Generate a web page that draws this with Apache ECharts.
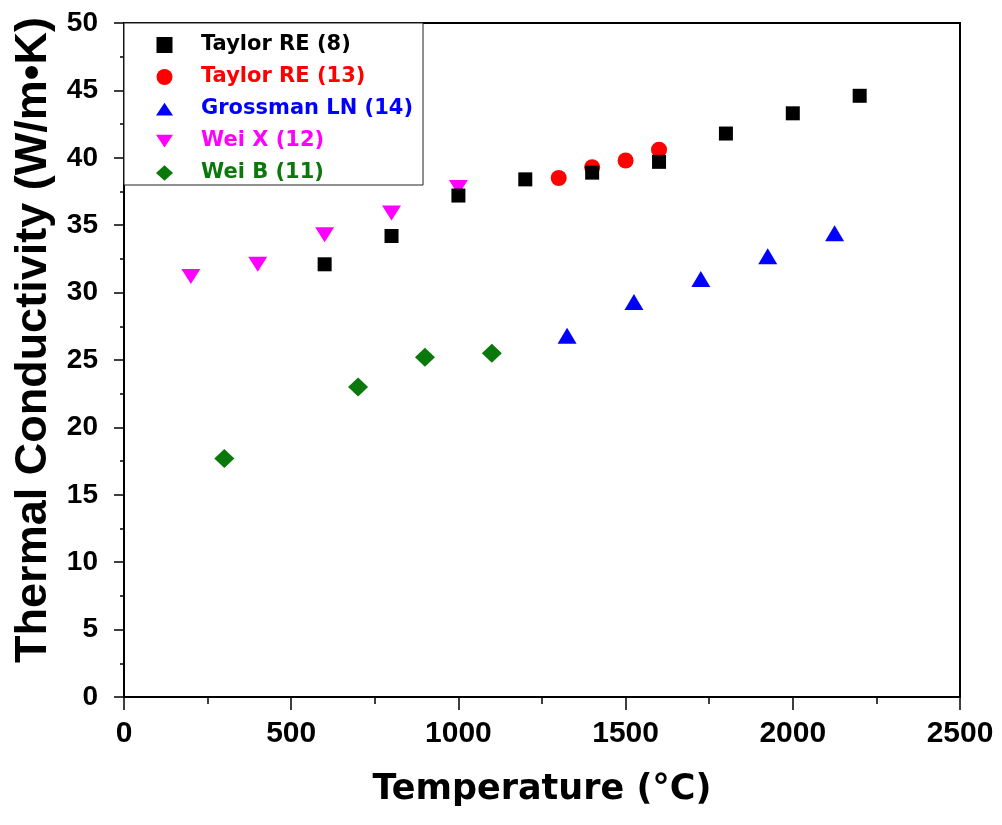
<!DOCTYPE html>
<html>
<head>
<meta charset="utf-8">
<script src="https://cdn.jsdelivr.net/npm/echarts@6/dist/echarts.min.js"></script>
<style>
html,body{margin:0;padding:0;background:#fff;}
#chart{width:1002px;height:825px;}
</style>
</head>
<body>
<div id="chart"></div>
<script>
// ---- data ----
var taylor8X = [600, 800, 1000, 1200, 1400, 1600, 1800, 2000, 2200];
var taylor8Y = [32.1, 34.2, 37.2, 38.4, 38.9, 39.7, 41.8, 43.3, 44.6];
var taylor13X = [1300, 1400, 1500, 1600];
var taylor13Y = [38.5, 39.3, 39.8, 40.6];
var grossmanX = [1325, 1525, 1725, 1925, 2125];
var grossmanY = [26.8, 29.3, 31.0, 32.7, 34.4];
var weiXX = [200, 400, 600, 800, 1000];
var weiXY = [31.2, 32.1, 34.3, 35.9, 37.8];
var weiBX = [300, 700, 900, 1100];
var weiBY = [17.7, 23.0, 25.2, 25.5];
var seriesNames = ['Taylor RE (8)', 'Taylor RE (13)', 'Grossman LN (14)', 'Wei X (12)', 'Wei B (11)'];
var xTitle = 'Temperature (°C)';
var yTitle = 'Thermal Conductivity (W/m•K)';

function pairs(xs, ys) { return xs.map(function (x, i) { return [x, ys[i]]; }); }

var colors = ['#000000', '#ff0000', '#0000ff', '#ff00ff', '#0a780a'];
var downTri = 'path://M0,0 L20,0 L10,15 Z';
var upTri = 'path://M10,0 L20,15 L0,15 Z';
var diamondIcon = 'path://M10,0 L20,9 L10,18 L0,9 Z';

var chart = echarts.init(document.getElementById('chart'), null, {renderer: 'canvas'});
var option = {
  backgroundColor: '#ffffff',
  animation: false,
  grid: {left: 124, right: 42, top: 23, bottom: 128, show: true, borderColor: '#000', borderWidth: 2, backgroundColor: 'transparent'},
  legend: {
    orient: 'vertical', left: 124, top: 23,
    padding: [11, 10, 1, 32],
    itemWidth: 17, itemHeight: 16, itemGap: 10,
    borderColor: '#222', borderWidth: 1, backgroundColor: '#fff',
    textStyle: {fontFamily: 'DejaVu Sans', fontWeight: 'bold', fontSize: 21, lineHeight: 22, padding: [0, 0, 0, 23]},
    data: [
      {name: seriesNames[0], icon: 'path://M0,0 L14,0 L14,14 L0,14 Z', textStyle: {color: colors[0]}},
      {name: seriesNames[1], icon: 'circle', textStyle: {color: colors[1]}},
      {name: seriesNames[2], icon: upTri, textStyle: {color: colors[2]}},
      {name: seriesNames[3], icon: downTri, textStyle: {color: colors[3]}},
      {name: seriesNames[4], icon: diamondIcon, textStyle: {color: colors[4]}}
    ]
  },
  xAxis: {
    type: 'value', min: 0, max: 2500, interval: 500,
    name: xTitle, nameLocation: 'middle', nameGap: 75,
    nameTextStyle: {fontFamily: 'DejaVu Sans', fontWeight: 'bold', fontSize: 35, color: '#000'},
    axisLine: {show: true, onZero: false, lineStyle: {color: '#000', width: 2}},
    axisTick: {show: true, inside: false, length: 13, lineStyle: {color: '#000', width: 1.5}},
    minorTick: {show: true, splitNumber: 2, length: 7, lineStyle: {color: '#000', width: 1.5}},
    axisLabel: {margin: 22, fontFamily: 'Liberation Sans', fontWeight: 'bold', fontSize: 30, color: '#000',
                formatter: function (v) { return String(v); }},
    splitLine: {show: false}
  },
  yAxis: {
    type: 'value', min: 0, max: 50, interval: 5,
    name: yTitle, nameLocation: 'middle', nameGap: 66, nameRotate: 90,
    nameTextStyle: {fontFamily: 'Liberation Sans', fontWeight: 'bold', fontSize: 45, color: '#000', padding: [0, 0, 0, 40]},
    axisLine: {show: true, onZero: false, lineStyle: {color: '#000', width: 2}},
    axisTick: {show: true, inside: false, length: 10, lineStyle: {color: '#000', width: 1.5}},
    minorTick: {show: true, splitNumber: 2, length: 4, lineStyle: {color: '#000', width: 1.5}},
    axisLabel: {margin: 26, fontFamily: 'Liberation Sans', fontWeight: 'bold', fontSize: 28, color: '#000',
                formatter: function (v) { return String(v); }},
    splitLine: {show: false}
  },
  series: [
    {name: seriesNames[0], type: 'scatter', z: 4, symbol: 'rect', symbolSize: 14,
     itemStyle: {color: colors[0], opacity: 1}, data: pairs(taylor8X, taylor8Y)},
    {name: seriesNames[1], type: 'scatter', z: 3, symbol: 'circle', symbolSize: 16,
     itemStyle: {color: colors[1], opacity: 1}, data: pairs(taylor13X, taylor13Y)},
    {name: seriesNames[2], type: 'scatter', z: 2, symbol: 'triangle', symbolSize: [19, 16],
     itemStyle: {color: colors[2], opacity: 1}, data: pairs(grossmanX, grossmanY)},
    {name: seriesNames[3], type: 'scatter', z: 2, symbol: 'triangle', symbolRotate: 180, symbolSize: [19, 15],
     itemStyle: {color: colors[3], opacity: 1}, data: pairs(weiXX, weiXY)},
    {name: seriesNames[4], type: 'scatter', z: 2, symbol: 'diamond', symbolSize: [20, 19],
     itemStyle: {color: colors[4], opacity: 1}, data: pairs(weiBX, weiBY)}
  ]
};
chart.setOption(option);
</script>
</body>
</html>
